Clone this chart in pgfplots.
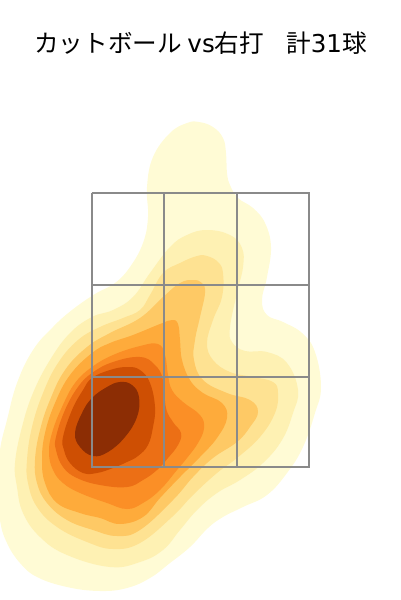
\documentclass[border=0pt]{standalone}
\usepackage{pgfplots}
\pgfplotsset{compat=1.18}
\usepackage{fontspec}
\newfontfamily\cjk{Noto Sans CJK JP}
\newfontfamily\lat{DejaVu Sans}

\definecolor{l1}{HTML}{FFFBD5}
\definecolor{l2}{HTML}{FEF1B3}
\definecolor{l3}{HTML}{FEE292}
\definecolor{l4}{HTML}{FEC965}
\definecolor{l5}{HTML}{FEAB3B}
\definecolor{l6}{HTML}{FB8F26}
\definecolor{l7}{HTML}{EC6F15}
\definecolor{l8}{HTML}{CE4F03}
\definecolor{l9}{HTML}{8C2D04}
\definecolor{zone}{HTML}{8A8A8A}

\begin{document}
\begin{tikzpicture}
\path[use as bounding box] (0,0) rectangle (400pt,600pt);
\begin{axis}[
  scale only axis,
  width=400pt, height=600pt,
  xmin=0, xmax=400,
  ymin=0, ymax=600, y dir=reverse,
  hide axis,
  clip=true,
  title={\fontsize{24.6}{28}\selectfont\cjk カットボール {\lat vs}右打\hspace{0.9em}計{\lat 31}球},
  title style={at={(axis cs:200.5,49)}, anchor=center, inner sep=0pt},
  every axis plot/.append style={draw=none, smooth cycle, tension=0.7, no markers},
]
% density bands, outer to inner, in picture pixels
\addplot[fill=l1] coordinates {
(199,122)(213,127)(223,138)(226,153)(227,173)(230,185)(238,198)(253,208)(265,223)(271,247)
(267,277)(262,300)(267,315)(283,322)(302,333)(315,352)(321,387)(315,413)(303,447)(287,473)
(267,495)(243,507)(223,517)(208,528)(190,547)(170,563)(150,578)(127,588)(100,591)(67,587)
(37,577)(20,563)(7,543)(0,520)(-2,485)(0,450)(7,420)(17,383)(33,350)(53,327)
(72,310)(95,294)(115,283)(130,267)(143,243)(148,217)(147,187)(153,157)(170,133)(187,123)};
\addplot[fill=l2] coordinates {
(207,230)(230,235)(242,248)(243,267)(237,293)(230,327)(232,342)(245,351)(267,352)(287,363)
(298,390)(293,413)(282,440)(263,463)(240,480)(217,493)(197,510)(180,530)(163,550)(140,562)
(110,567)(67,555)(40,537)(23,513)(17,487)(15,463)(22,427)(33,393)(50,360)(70,333)
(92,317)(113,310)(133,297)(150,273)(170,247)(187,235)};
\addplot[fill=l3] coordinates {
(207,256)(218,262)(223,273)(222,297)(213,320)(207,343)(213,360)(230,372)(253,377)(273,382)
(278,393)(275,413)(260,437)(237,458)(217,473)(193,495)(172,517)(140,543)(113,549)(87,542)
(57,527)(37,507)(28,483)(27,460)(32,427)(43,393)(58,363)(78,340)(100,327)(123,318)
(140,310)(150,295)(163,273)(180,263)(197,256)};
\addplot[fill=l4] coordinates {
(193,280)(202,283)(205,293)(200,317)(195,340)(194,360)(203,380)(227,393)(250,400)(258,412)
(250,427)(237,442)(213,458)(193,477)(173,500)(140,530)(117,536)(93,530)(67,520)(47,503)
(37,483)(35,460)(40,430)(50,400)(65,370)(87,347)(110,333)(140,318)(163,297)(180,283)};
\addplot[fill=l5] coordinates {
(172,320)(178,324)(180,340)(182,360)(190,380)(203,393)(222,403)(227,418)(217,438)(200,457)
(180,477)(160,498)(143,517)(120,524)(100,518)(80,513)(57,503)(45,483)(42,460)(45,433)
(55,403)(70,375)(92,353)(110,343)(133,335)(160,324)};
\addplot[fill=l6] coordinates {
(140,346)(158,344)(165,355)(168,375)(172,390)(183,402)(200,415)(204,428)(198,443)(187,458)
(177,470)(160,490)(143,503)(127,509)(107,503)(80,493)(63,483)(53,470)(49,453)(52,433)
(62,407)(75,383)(92,367)(113,355)};
\addplot[fill=l7] coordinates {
(140,357)(155,365)(163,380)(166,408)(173,422)(181,433)(178,445)(168,458)(157,470)(143,480)
(127,487)(100,485)(77,478)(63,467)(56,450)(56,437)(65,410)(78,387)(92,373)(113,362)};
\addplot[fill=l8] coordinates {
(127,367)(140,370)(150,383)(155,407)(153,427)(148,445)(138,456)(127,462)(113,468)(97,473)
(83,473)(70,463)(64,450)(63,437)(72,410)(83,390)(92,378)(110,370)};
\addplot[fill=l9] coordinates {
(120,382)(132,385)(139,397)(137,417)(125,437)(108,452)(93,456)(80,447)(75,433)(82,413)
(92,398)(107,387)};
% strike zone
\addplot[draw=zone, line width=1.8pt, sharp plot] coordinates {(91.7,193.3)(309.3,193.3)(309.3,466.7)(91.7,466.7)(91.7,193.3)};
\addplot[draw=zone, line width=1.8pt, sharp plot] coordinates {(164.3,193.3)(164.3,466.7)};
\addplot[draw=zone, line width=1.8pt, sharp plot] coordinates {(236.7,193.3)(236.7,466.7)};
\addplot[draw=zone, line width=1.8pt, sharp plot] coordinates {(91.7,285)(309.3,285)};
\addplot[draw=zone, line width=1.8pt, sharp plot] coordinates {(91.7,377.3)(309.3,377.3)};
\end{axis}
\end{tikzpicture}
\end{document}
